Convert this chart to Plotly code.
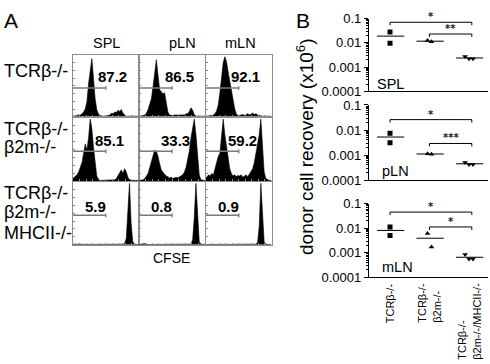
import numpy as np
import plotly.graph_objects as go

W, H = 490, 364
FONT = "Liberation Sans, Arial, Helvetica, sans-serif"

# ---------------- Panel A data (CFSE histograms, % of panel height per bin) ----------------
tissues = ["SPL", "pLN", "mLN"]
row_labels = [["TCRβ-/-"], ["TCRβ-/-", "β2m-/-"], ["TCRβ-/-", "β2m-/-", "MHCII-/-"]]
gate_pct = [["87.2", "86.5", "92.1"],
            ["85.1", "33.3", "59.2"],
            ["5.9", "0.8", "0.9"]]

hist_r1_spl = [1, 2, 2, 3, 3, 5, 8, 13, 25, 55, 80, 97, 65, 30, 12, 5, 2, 1, 1, 1,
               1, 2, 3, 6, 5, 8, 7, 11, 9, 12, 6, 3, 1, 1, 1, 1, 1, 1, 1, 1]
hist_r1_pln = [1, 1, 2, 3, 6, 12, 20, 30, 50, 75, 95, 70, 45, 42, 38, 40, 25, 8, 3, 2,
               2, 3, 3, 4, 3, 3, 4, 3, 5, 5, 9, 15, 11, 4, 1, 1, 1, 1, 1, 1]
hist_r1_mln = [1, 1, 1, 2, 3, 5, 10, 20, 40, 65, 90, 100, 92, 75, 60, 42, 28, 14, 5, 2,
               2, 3, 4, 2, 3, 5, 3, 4, 6, 4, 5, 3, 2, 1, 1, 1, 1, 1, 1, 1]
hist_r2_spl = [5, 8, 10, 15, 22, 30, 45, 60, 50, 70, 100, 85, 55, 25, 8, 3, 1, 1, 1, 1,
               1, 1, 1, 1, 1, 2, 4, 8, 14, 18, 12, 20, 15, 6, 2, 1, 1, 1, 1, 1]
hist_r2_pln = [1, 1, 2, 4, 8, 12, 22, 32, 42, 50, 48, 40, 28, 18, 14, 10, 8, 7, 5, 6,
               4, 5, 6, 5, 7, 8, 10, 14, 22, 35, 48, 70, 88, 100, 75, 40, 10, 2, 1, 1]
hist_r2_mln = [6, 10, 8, 12, 10, 20, 30, 40, 45, 70, 100, 75, 55, 40, 20, 12, 8, 10, 7, 9,
               8, 10, 6, 8, 10, 7, 12, 15, 20, 30, 45, 55, 75, 100, 60, 15, 4, 2, 1, 1]
hist_r3_spl = [1, 2, 2, 1, 2, 1, 0.5, 0.5, 0.5, 0.5, 0.5, 0.5, 0.5, 0.5, 0.5, 0.5, 0.5, 0.5, 0.5, 0.5,
               0.5, 0.5, 0.5, 0.5, 0.5, 0.5, 0.5, 0.5, 0.5, 0.5, 1, 2, 10, 55, 100, 35, 5, 1, 0.5, 0.5]
hist_r3_pln = [0.5, 1, 1.5, 2, 1, 0.5, 0.5, 0.5, 0.5, 0.5, 0.5, 0.5, 0.5, 0.5, 0.5, 0.5, 0.5, 0.5, 0.5, 0.5,
               0.5, 0.5, 0.5, 0.5, 0.5, 0.5, 0.5, 0.5, 0.5, 0.5, 0.5, 1, 8, 45, 100, 40, 5, 1, 0.5, 0.5]
hist_r3_mln = [0.5, 0.5, 0.5, 0.5, 0.5, 0.5, 0.5, 0.5, 0.5, 0.5, 0.5, 0.5, 0.5, 0.5, 0.5, 0.5, 0.5, 0.5, 0.5, 0.5,
               0.5, 0.5, 0.5, 0.5, 0.5, 0.5, 0.5, 0.5, 0.5, 0.5, 1, 4, 30, 100, 40, 5, 1, 0.5, 0.5, 0.5]

hists = [[hist_r1_spl, hist_r1_pln, hist_r1_mln],
         [hist_r2_spl, hist_r2_pln, hist_r2_mln],
         [hist_r3_spl, hist_r3_pln, hist_r3_mln]]

# ---------------- Panel B data (donor cell recovery, x10^6) ----------------
groups = ["TCRβ-/-", "TCRβ-/-<br>β2m-/-", "TCRβ-/-<br>β2m-/-/MHCII-/-"]
organs = ["SPL", "pLN", "mLN"]

spl_g1 = [0.028, 0.0096]
spl_g2 = [0.0123, 0.011]
spl_g3 = [0.0027, 0.0022, 0.0022]
pln_g1 = [0.0074, 0.0031]
pln_g2 = [0.00112, 0.00108]
pln_g3 = [0.0005, 0.00042, 0.00042]
mln_g1 = [0.0112, 0.005]
mln_g2 = [0.0061, 0.0017]
mln_g3 = [0.00085, 0.00056, 0.00056]
recovery = [[spl_g1, spl_g2, spl_g3], [pln_g1, pln_g2, pln_g3], [mln_g1, mln_g2, mln_g3]]

# significance brackets: (from group, to group, y value, stars)
spl_sig = [(1, 3, 0.07, "*"), (2, 3, 0.023, "**")]
pln_sig = [(1, 3, 0.026, "*"), (2, 3, 0.0029, "***")]
mln_sig = [(1, 3, 0.045, "*"), (2, 3, 0.0112, "*")]
sigs = [spl_sig, pln_sig, mln_sig]

ytick_vals = [0.0001, 0.001, 0.01, 0.1]
ytick_text = ["0.0001", "0.001", "0.01", "0.1"]

# ---------------- layout helpers ----------------
def fx(px):
    return px / W

def fy(py):
    return 1 - py / H

col_px = [(73, 138.5), (139, 205), (206, 271.5)]
row_px = [(50, 114.5), (115, 181.5), (182, 248)]
label_pos = [[(0.61, 0.65), (0.62, 0.65), (0.60, 0.65)],
             [(0.56, 0.64), (0.56, 0.64), (0.56, 0.64)],
             [(0.35, 0.61), (0.34, 0.61), (0.34, 0.61)]]
XMAX, YMAX = 1024.0, 103.0
GATE_HI, GATE_Y = 512.0, 48.0

fig = go.Figure()
layout = dict(width=W, height=H, margin=dict(l=0, r=0, t=0, b=0), autosize=False,
              paper_bgcolor="white", plot_bgcolor="white", showlegend=False,
              font=dict(family=FONT, color="black"))
annotations = []

frame = "#8c8c8c"
k = 0
for r in range(3):
    for c in range(3):
        k += 1
        xa, ya = f"x{k}", f"y{k}"
        counts = hists[r][c]
        nb = len(counts)
        centers = (np.arange(nb) + 0.5) * XMAX / nb
        xs = np.concatenate([[0], centers, [XMAX]])
        ys = [counts[0]] + list(counts) + [counts[-1]]
        fig.add_trace(go.Scatter(x=xs, y=ys, mode="lines", fill="tozeroy", fillcolor="black",
                                 line=dict(color="black", width=0.6), xaxis=xa, yaxis=ya,
                                 hoverinfo="skip"))
        # gate marker
        fig.add_trace(go.Scatter(x=[0, GATE_HI, None, GATE_HI, GATE_HI],
                                 y=[GATE_Y, GATE_Y, None, GATE_Y - 3, GATE_Y + 3],
                                 mode="lines", line=dict(color="#7a7a7a", width=1.4),
                                 xaxis=xa, yaxis=ya, hoverinfo="skip"))
        x0, x1 = col_px[c]
        y0, y1 = row_px[r]
        layout["xaxis" if k == 1 else f"xaxis{k}"] = dict(
            domain=[fx(x0), fx(x1)], range=[0, XMAX], anchor=ya, showline=True, mirror=True,
            linecolor=frame, linewidth=1, ticks="inside", ticklen=2, tickcolor=frame,
            tick0=0, dtick=XMAX / 10, showticklabels=False, showgrid=False, zeroline=False)
        layout["yaxis" if k == 1 else f"yaxis{k}"] = dict(
            domain=[fy(y1), fy(y0)], range=[0, YMAX], anchor=xa, showline=True, mirror=True,
            linecolor=frame, linewidth=1, ticks="inside", ticklen=2, tickcolor=frame,
            tick0=0, dtick=YMAX / 8, showticklabels=False, showgrid=False, zeroline=False)
        lx, ly = label_pos[r][c]
        annotations.append(dict(x=lx * XMAX, y=ly * YMAX, xref=xa, yref=ya, text=f"<b>{gate_pct[r][c]}</b>",
                                showarrow=False, font=dict(size=15, family=FONT, color="black"),
                                xanchor="center", yanchor="middle"))

# panel A text
annotations.append(dict(x=fx(2), y=fy(14.5), xref="paper", yref="paper", text="A", showarrow=False,
                        font=dict(size=21, color="black"), xanchor="left", yanchor="middle"))
for name, cx in zip(tissues, [106, 182, 240]):
    annotations.append(dict(x=fx(cx), y=fy(37.5), xref="paper", yref="paper", text=name,
                            showarrow=False, font=dict(size=14.5, color="black"),
                            xanchor="center", yanchor="middle"))
row_line_y = [[67], [127.5, 146], [194, 213.5, 236]]
for lines, ys in zip(row_labels, row_line_y):
    for t, yy in zip(lines, ys):
        annotations.append(dict(x=fx(2), y=fy(yy), xref="paper", yref="paper", text=t,
                                showarrow=False, font=dict(size=18, color="black"),
                                xanchor="left", yanchor="middle"))
annotations.append(dict(x=fx(171), y=fy(262), xref="paper", yref="paper", text="CFSE",
                        showarrow=False, font=dict(size=14, color="black"),
                        xanchor="center", yanchor="middle"))

# ---------------- Panel B ----------------
b_dom = [(12, 88), (102.2, 180.5), (205, 282)]
XR = [0.468, 3.48]
jitter = [[0.0, 0.0], [-0.05, 0.05], [-0.1, 0.0, 0.1]]
symbols = ["square", "triangle-up", "triangle-down"]
minor_vals = [m * 10.0 ** e for e in range(-4, -1) for m in range(2, 10)]
organ_label_x = [375, 380, 380]
organ_label_y = [80, 171, 271]

for i in range(3):
    k = 10 + i
    xa, ya = f"x{k}", f"y{k}"
    t0, t1 = b_dom[i]
    layout[f"xaxis{k}"] = dict(domain=[fx(369), fx(488)], range=XR, anchor=ya, showline=True,
                               linecolor="black", linewidth=1.3, ticks="", showticklabels=False,
                               showgrid=False, zeroline=False)
    layout[f"yaxis{k}"] = dict(domain=[fy(t1), fy(t0)], type="log", range=[-4, -1], anchor=xa,
                               showline=True, linecolor="black", linewidth=1.3, ticks="outside",
                               ticklen=4, tickwidth=1, tickcolor="black", tickmode="array",
                               tickvals=ytick_vals, ticktext=ytick_text,
                               tickfont=dict(size=13, color="black"),
                               minor=dict(tickmode="array", tickvals=minor_vals, ticks="outside",
                                          ticklen=2, tickcolor="black"),
                               showgrid=False, zeroline=False)
    for g in range(3):
        vals = recovery[i][g]
        gx = g + 1
        fig.add_trace(go.Scatter(x=[gx + j for j in jitter[g][:len(vals)]], y=vals, mode="markers",
                                 marker=dict(symbol=symbols[g], size=5, color="black"),
                                 xaxis=xa, yaxis=ya, hoverinfo="skip"))
        m = float(np.mean(vals))
        fig.add_trace(go.Scatter(x=[gx - 0.33, gx + 0.36], y=[m, m], mode="lines",
                                 line=dict(color="black", width=1), xaxis=xa, yaxis=ya,
                                 hoverinfo="skip"))
    for (ga, gb, yv, stars) in sigs[i]:
        xb = gb + 0.07
        fig.add_trace(go.Scatter(x=[ga, ga, xb, xb], y=[yv * 0.76, yv, yv, yv * 0.76], mode="lines",
                                 line=dict(color="black", width=1), xaxis=xa, yaxis=ya,
                                 hoverinfo="skip"))
        annotations.append(dict(x=(ga + xb) / 2, y=float(np.log10(yv)), xref=xa, yref=ya,
                                text=f"<b>{stars}</b>", showarrow=False,
                                font=dict(size=10, color="#202020", family="DejaVu Sans"),
                                xanchor="center", yanchor="bottom", yshift=-2))
    annotations.append(dict(x=fx(organ_label_x[i]), y=fy(organ_label_y[i]), xref="paper", yref="paper",
                            text=organs[i], showarrow=False, font=dict(size=14.5, color="black"),
                            xanchor="left", yanchor="middle"))

for g, name in enumerate(groups):
    annotations.append(dict(x=g + 1, y=fy(286), xref="x12", yref="paper", text=name, showarrow=False,
                            textangle=-90, font=dict(size=11, color="black"), xanchor="center",
                            yanchor="top", align="left"))

annotations.append(dict(x=fx(302.5), y=fy(14.5), xref="paper", yref="paper", text="B", showarrow=False,
                        font=dict(size=21, color="black"), xanchor="center", yanchor="middle"))
annotations.append(dict(x=fx(305), y=fy(146), xref="paper", yref="paper",
                        text="donor cell recovery (x10<sup>6</sup>)", showarrow=False, textangle=-90,
                        font=dict(size=19, color="black"), xanchor="center", yanchor="middle"))

layout["annotations"] = annotations
fig.update_layout(**layout)
fig.write_html("out.html", config={"displayModeBar": False},
               post_script="document.body.style.margin='0';")
